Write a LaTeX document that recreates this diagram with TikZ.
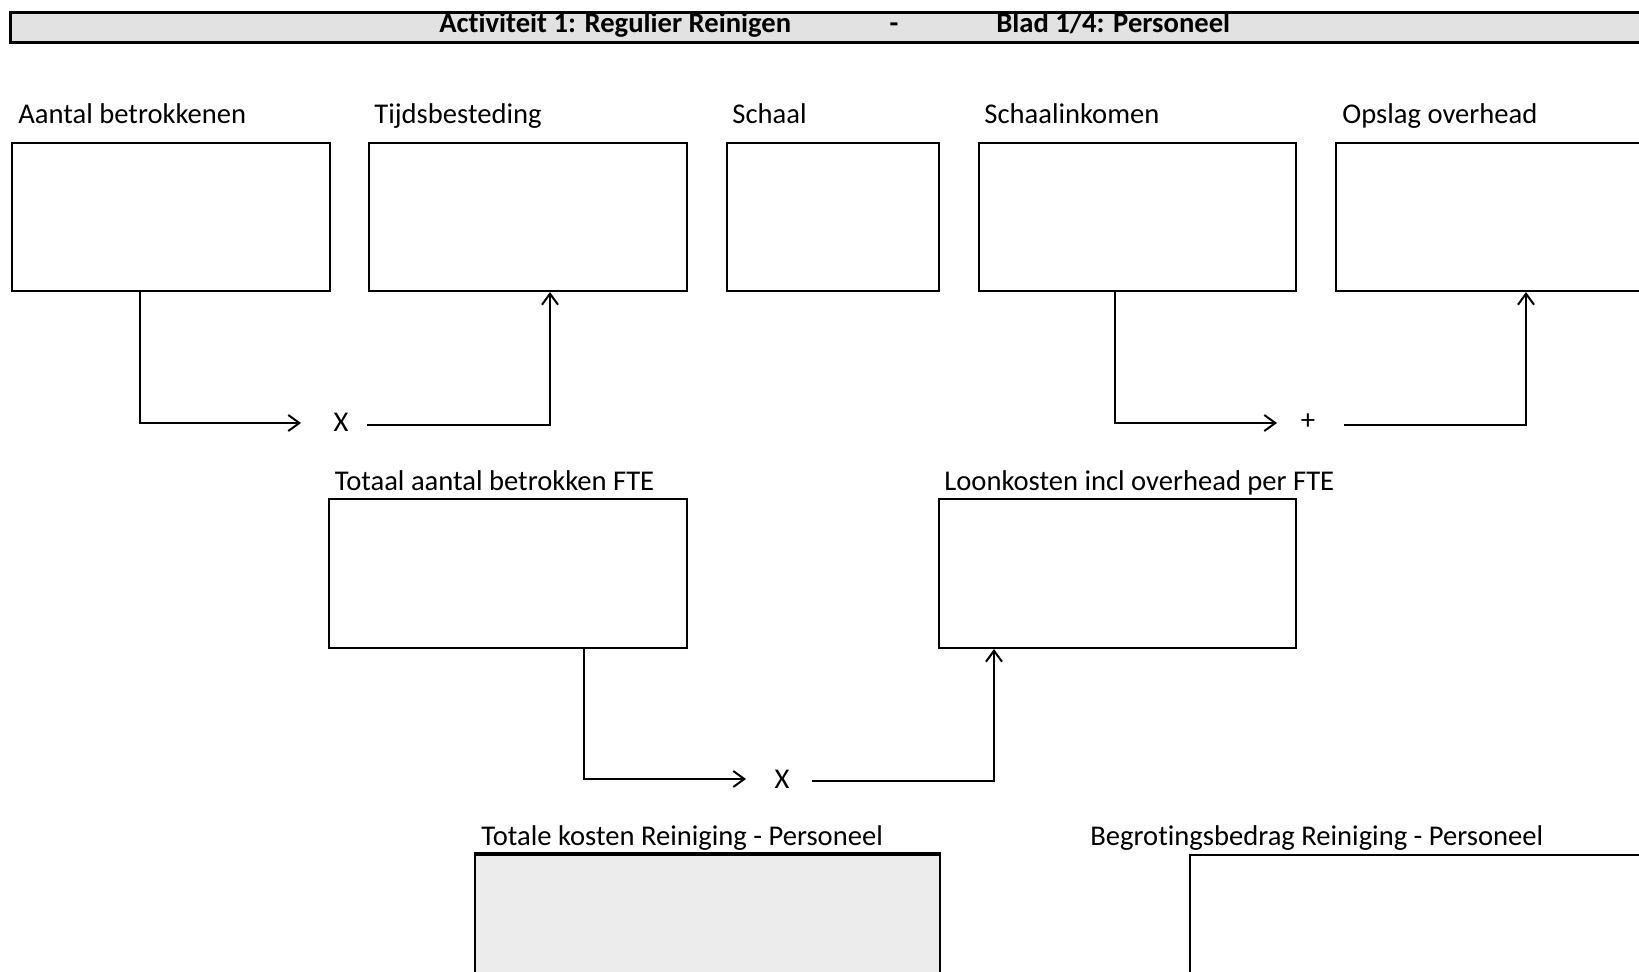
\documentclass[tikz,border=0pt]{standalone}
\usepackage{fontspec}
\setmainfont{Carlito}[Ligatures={NoCommon,NoContextual,NoRequired},Contextuals={NoAlternate}]
\usetikzlibrary{arrows.meta,fit}
\definecolor{titlegray}{HTML}{E2E2E2}
\definecolor{boxgray}{HTML}{ECECEC}
\begin{document}
\begin{tikzpicture}[x=0.5pt,y=-0.5pt,
  box/.style={draw, line width=1pt, inner sep=0pt, fill=white},
  lbl/.style={anchor=base west, inner sep=0pt, font=\fontsize{14.3}{17}\selectfont},
  ttl/.style={inner sep=0pt, font=\fontsize{14.3}{17}\selectfont\bfseries},
  op/.style={inner sep=0pt, font=\fontsize{14.3}{17}\selectfont},
  arr/.style={line width=1pt, -{Straight Barb[length=5.5pt,width=8pt]}}]
\path[use as bounding box] (0,0) rectangle (1639,971);
\clip (0,0) rectangle (1639,971);

% title bar
\node[draw, line width=1.7pt, fill=titlegray, inner sep=0pt, fit={(10.5,12.5) (1700,42.5)}] (bar) {};
\node[ttl, anchor=base west] (t1) at (439,32.5) {Activiteit 1: Regulier Reinigen};
\node[ttl, anchor=base] (t2) at (894,32.5) {-};
\node[ttl, anchor=base west] (t3) at (996,32.5) {Blad 1/4: Personeel};

% row 1
\node[box, fit={(11.5,143) (330,291)}] (b1) {};
\node[box, fit={(369,143) (687,291)}] (b2) {};
\node[box, fit={(726.5,143) (939,291)}] (b3) {};
\node[box, fit={(978.5,143) (1296,291)}] (b4) {};
\node[box, fit={(1336,143) (1700,291)}] (b5) {};
\node[lbl] (l1) at (18,123) {Aantal betrokkenen};
\node[lbl] (l2) at (374,123) {Tijdsbesteding};
\node[lbl] (l3) at (732,123) {Schaal};
\node[lbl] (l4) at (984,123) {Schaalinkomen};
\node[lbl] (l5) at (1342,123) {Opslag overhead};

% row 2
\node[box, fit={(329,499) (687,648)}] (bA) {};
\node[box, fit={(939,499) (1296,648)}] (bB) {};
\node[lbl] (lA) at (334.5,490) {Totaal aantal betrokken FTE};
\node[lbl] (lB) at (944,490) {Loonkosten incl overhead per FTE};

% row 3
\node[draw, line width=1.4pt, fill=boxgray, inner sep=0pt, fit={(475,855) (940,1010)}] (bT) {};
\draw[line width=1.8pt] (bT.north west) -- (bT.north east);
\node[box, fit={(1190,855) (1700,1010)}] (bG) {};
\node[lbl] (lT) at (481,845) {Totale kosten Reiniging - Personeel};
\node[lbl] (lG) at (1090,845) {Begrotingsbedrag Reiniging - Personeel};

% operators
\node[op] (x1) at (341,422) {X};
\node[op] (p1) at (1308,422) {+};
\node[op] (x2) at (782,779) {X};

\coordinate (op1in) at (301,423);
\coordinate (op1out) at (367,425);
\coordinate (op2in) at (1277,423);
\coordinate (op2out) at (1344,425);
\coordinate (op3in) at (746,779);
\coordinate (op3out) at (812,781);
\coordinate (c1x) at (140,0);
\coordinate (c2x) at (550,0);
\coordinate (c3x) at (1115,0);
\coordinate (c4x) at (1526,0);
\coordinate (c5x) at (584,0);
\coordinate (c6x) at (994,0);

\draw[arr] (b1.south -| c1x) |- (op1in);
\draw[arr] (op1out) -| (b2.south -| c2x);
\draw[arr] (b4.south -| c3x) |- (op2in);
\draw[arr] (op2out) -| (b5.south -| c4x);
\draw[arr] (bA.south -| c5x) |- (op3in);
\draw[arr] (op3out) -| (bB.south -| c6x);
\end{tikzpicture}
\end{document}
